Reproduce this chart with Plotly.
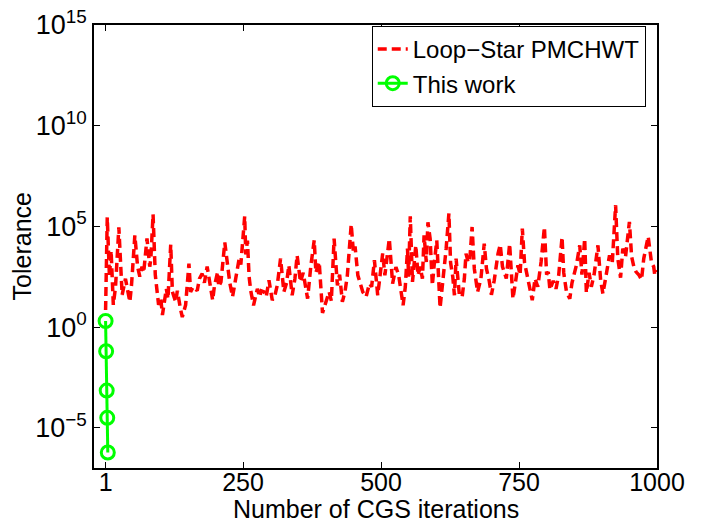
import plotly.graph_objects as go

# CGS residual history of the Loop-Star PMCHWT solve (turning points of the curve)
loop_star_iter = [
    1, 4, 8, 11, 15, 19, 25, 31, 37, 41, 45, 48, 54, 59, 63, 67, 70, 76, 81, 83,
    87, 91, 97, 101, 104, 111, 114, 119, 122, 128, 131, 137, 140, 146, 152, 155,
    160, 167, 171, 176, 180, 185, 191, 195, 198, 204, 206, 210, 217, 222, 226,
    231, 237, 243, 246, 253, 255, 258, 261, 264, 269, 272, 276, 280, 283, 288,
    292, 297, 300, 303, 308, 312, 318, 324, 329, 333, 339, 344, 348, 354, 359,
    367, 373, 379, 382, 388, 394, 400, 406, 410, 415, 421, 425, 430, 435, 439,
    446, 450, 453, 458, 462, 467, 473, 476, 479, 483, 488, 494, 498, 503, 507,
    510, 515, 521, 527, 532, 536, 540, 544, 548, 550, 553, 557, 563, 567, 571,
    575, 578, 582, 585, 589, 593, 597, 601, 607, 613, 618, 623, 626, 630, 633,
    636, 642, 647, 651, 654, 658, 661, 665, 669, 675, 681, 687, 691, 696, 700,
    705, 712, 716, 720, 727, 733, 739, 744, 748, 752, 756, 760, 765, 770, 774,
    779, 784, 790, 796, 800, 803, 806, 812, 817, 822, 828, 831, 836, 842, 846,
    854, 860, 864, 869, 872, 877, 881, 886, 893, 898, 902, 908, 914, 919, 925,
    929, 934, 938, 943, 950, 954, 958, 962, 967, 972, 976, 984, 990, 994, 996,
    1000,
]
loop_star_log10_tol = [
    0.85, 5.45, 2.5, 3.8, 1.1, 2.0, 4.95, 1.6, 2.4, 1.7, 1.25, 2.1, 4.55, 3.0,
    2.5, 3.0, 2.7, 4.4, 3.0, 3.4, 5.6, 2.6, 1.1, 1.4, 0.6, 1.9, 1.4, 4.1, 1.75,
    1.25, 1.8, 0.85, 0.5, 1.1, 3.15, 1.75, 2.0, 1.8, 2.4, 2.65, 2.2, 3.0, 2.1,
    1.33, 2.0, 2.74, 2.0, 2.24, 4.2, 2.9, 2.2, 1.5, 2.4, 3.4, 3.1, 5.5, 3.6,
    4.3, 2.5, 1.8, 1.08, 1.5, 1.9, 1.5, 1.8, 1.75, 1.5, 2.32, 1.7, 1.33, 1.6,
    2.07, 3.4, 1.75, 2.2, 3.07, 1.58, 2.4, 3.56, 2.24, 2.7, 1.41, 3.07, 4.31,
    2.7, 3.23, 0.7, 1.3, 1.75, 1.3, 4.39, 2.07, 2.6, 1.25, 1.8, 2.57, 5.1, 3.7,
    4.0, 2.57, 2.2, 1.74, 1.5, 1.9, 2.16, 2.0, 3.32, 1.58, 2.4, 3.65, 2.57,
    3.2, 4.39, 2.16, 2.98, 2.57, 1.7, 1.08, 2.0, 3.9, 2.5, 5.5, 2.24, 4.06,
    2.57, 3.0, 2.4, 4.56, 3.23, 5.2, 4.39, 2.07, 3.3, 4.3, 0.95, 2.4, 3.9,
    5.64, 3.2, 2.5, 1.58, 3.4, 1.58, 1.5, 2.41, 3.65, 3.2, 3.4, 4.97, 2.9,
    1.74, 2.4, 4.14, 2.9, 2.3, 1.6, 2.3, 3.65, 4.1, 3.0, 2.41, 4.14, 1.4, 2.3,
    3.07, 2.6, 4.89, 3.2, 2.6, 2.0, 1.33, 2.41, 2.0, 3.23, 4.97, 2.6, 2.74,
    1.85, 2.3, 1.9, 2.6, 4.47, 2.7, 1.74, 1.41, 2.2, 3.07, 4.06, 2.6, 4.39,
    1.7, 2.7, 2.0, 2.6, 4.06, 2.3, 1.66, 2.6, 3.56, 3.2, 6.05, 3.4, 2.45, 3.9,
    3.5, 5.22, 3.5, 3.0, 2.74, 2.6, 2.35, 3.4, 4.5, 3.2, 3.0, 2.57, 2.82,
]
loop_star_tol = [10 ** v for v in loop_star_log10_tol]

# Residual history of the proposed formulation
this_work_iter = [1, 2, 3, 4, 5]
this_work_tol = [2.0, 6.3e-2, 7.0e-4, 3.1e-5, 5.9e-7]

x_tick_vals = [1, 250, 500, 750, 1000]
y_tick_exps = [-5, 0, 5, 10, 15]

FONT = "Liberation Sans, Arial, Helvetica, sans-serif"

fig = go.Figure()
fig.add_trace(go.Scatter(
    x=loop_star_iter, y=loop_star_tol, mode="lines",
    name="Loop\u2212Star PMCHWT",
    line=dict(color="#ff0000", width=3.5, dash="9px,5px"),
))
fig.add_trace(go.Scatter(
    x=this_work_iter, y=this_work_tol, mode="lines+markers",
    name="This work",
    line=dict(color="#00ff00", width=3),
    marker=dict(symbol="circle-open", size=13, color="#00ff00",
                line=dict(width=3, color="#00ff00")),
))

fig.update_layout(
    width=709, height=525,
    margin=dict(l=94, r=52, t=25, b=57, autoexpand=False),
    paper_bgcolor="white", plot_bgcolor="white",
    font=dict(family=FONT, size=25, color="black"),
    showlegend=True,
    legend=dict(
        x=0.98, y=0.998, xanchor="right", yanchor="top",
        bgcolor="white", bordercolor="black", borderwidth=1,
        font=dict(family=FONT, size=24, color="black"),
        itemwidth=30, tracegroupgap=0,
    ),
    annotations=[
        # axis titles, placed just under / left of the tick labels
        dict(text="Number of CGS iterations", xref="paper", yref="paper",
             x=0.5, y=-0.0925, xanchor="center", yanchor="middle",
             showarrow=False, font=dict(family=FONT, size=25, color="black")),
        dict(text="Tolerance", xref="paper", yref="paper",
             x=-0.128, y=0.5, xanchor="center", yanchor="middle",
             textangle=-90, showarrow=False,
             font=dict(family=FONT, size=25, color="black")),
    ],
)
fig.update_xaxes(
    range=[-20, 1000], automargin=False,
    tickvals=x_tick_vals, ticktext=[str(v) for v in x_tick_vals],
    ticks="inside", ticklen=6, tickcolor="black", tickwidth=1,
    ticklabelstandoff=-9,
    showline=True, linecolor="black", linewidth=1.5, mirror="ticks",
    showgrid=False, zeroline=False,
    tickfont=dict(family=FONT, size=25),
)
fig.update_yaxes(
    type="log", range=[-7, 15], automargin=False,
    tickvals=[10.0 ** e for e in y_tick_exps],
    ticktext=["10<sup>%s</sup>" % (str(e).replace("-", "\u2212")) for e in y_tick_exps],
    ticks="inside", ticklen=6, tickcolor="black", tickwidth=1,
    showline=True, linecolor="black", linewidth=1.5, mirror="ticks",
    showgrid=False, zeroline=False,
    tickfont=dict(family=FONT, size=27),
)

fig.write_html("out.html")
